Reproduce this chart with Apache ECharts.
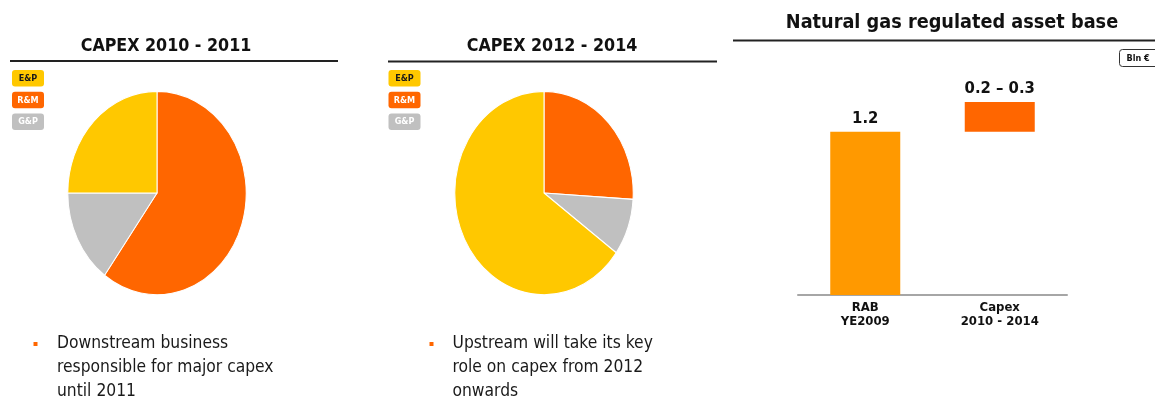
<!DOCTYPE html>
<html>
<head>
<meta charset="utf-8">
<script src="https://cdn.jsdelivr.net/npm/echarts@6/dist/echarts.min.js"></script>
<style>
  html, body { margin: 0; padding: 0; background: #fff; }
  #wrap { position: relative; width: 1155px; height: 400px; overflow: hidden; }
  #main { position: absolute; left: 0; top: 0; width: 1155px; height: 400px; }
  .pie { position: absolute; width: 200px; height: 200px; transform: scaleY(1.14); transform-origin: 50% 50%; }
</style>
</head>
<body>
<div id="wrap">
  <div id="main"></div>
  <div id="pie1" class="pie" style="left:57px; top:93px;"></div>
  <div id="pie2" class="pie" style="left:444px; top:93px;"></div>
</div>
<script>
// Capex split by business line (%), pies run clockwise from 12 o'clock
const pieCategories = ['R&M', 'G&P', 'E&P'];
const capex2010_2011 = [60, 15, 25];
const capex2012_2014 = [26, 9, 65];

// Legend badges, in display order
const legendItems = ['E&P', 'R&M', 'G&P'];

// Regulated asset base bridge (Bln €)
const barCategories = ['RAB\nYE2009', 'Capex\n2010 - 2014'];
const barValues = [1.2, 0.22];
const barLabels = ['1.2', '0.2 – 0.3'];

const FONT = "'DejaVu Sans Condensed', 'DejaVu Sans', sans-serif";
const colorOf = { 'E&P': '#FFC800', 'R&M': '#FF6600', 'G&P': '#C0C0C0' };
const legendText = { 'E&P': '#1a1a1a', 'R&M': '#ffffff', 'G&P': '#ffffff' };
const barColors = ['#FF9900', '#FF6600'];

// floating bars: each one starts where the previous ended
const barBase = barValues.map((v, i) => barValues.slice(0, i).reduce((a, b) => a + b, 0));

function legendGroup(x0) {
  return legendItems.map((name, i) => ({
    type: 'group',
    x: x0, y: 70 + i * 21.7,
    children: [
      { type: 'rect', shape: { x: 0, y: 0, width: 32, height: 16.5, r: 3 },
        style: { fill: colorOf[name] } },
      { type: 'text', x: 16, y: 8.5,
        style: { text: name, fill: legendText[name], font: 'bold 9px ' + FONT,
                 align: 'center', verticalAlign: 'middle' } }
    ]
  }));
}

function bullet(x, textX, lines) {
  return [
    { type: 'rect', shape: { x: x, y: 342, width: 4, height: 4 }, style: { fill: '#FF6600' } },
    { type: 'text', x: textX, y: 332,
      style: { text: lines, fill: '#1a1a1a', font: '17.3px ' + FONT, lineHeight: 24,
               align: 'left', verticalAlign: 'top' } }
  ];
}

const main = echarts.init(document.getElementById('main'));
main.setOption({
  animation: false,
  title: [
    { text: 'CAPEX 2010 - 2011', left: 161, top: 32, textAlign: 'center',
      textStyle: { fontFamily: FONT, fontWeight: 'bold', fontSize: 17.7, color: '#111' } },
    { text: 'CAPEX 2012 - 2014', left: 547, top: 32, textAlign: 'center',
      textStyle: { fontFamily: FONT, fontWeight: 'bold', fontSize: 17.7, color: '#111' } },
    { text: 'Natural gas regulated asset base', left: 947, top: 8, textAlign: 'center',
      textStyle: { fontFamily: FONT, fontWeight: 'bold', fontSize: 19.7, color: '#111' } }
  ],
  grid: { left: 798, width: 269, top: 91, height: 204 },
  xAxis: {
    type: 'category', data: barCategories,
    axisLine: { lineStyle: { color: '#A6A6A6', width: 2 } },
    axisTick: { show: false },
    axisLabel: { margin: 6, fontFamily: FONT, fontWeight: 'bold', fontSize: 13,
                 lineHeight: 13.5, color: '#111' }
  },
  yAxis: { type: 'value', min: 0, max: 1.5, show: false, splitLine: { show: false } },
  series: [
    { type: 'bar', stack: 'rab', barWidth: 70, silent: true,
      itemStyle: { color: 'transparent' }, data: barBase },
    { type: 'bar', stack: 'rab', barWidth: 70,
      data: barValues.map((v, i) => ({ value: v, itemStyle: { color: barColors[i] } })),
      label: { show: true, position: 'top', distance: 5,
               formatter: p => barLabels[p.dataIndex],
               fontFamily: FONT, fontWeight: 'bold', fontSize: 16.5, color: '#111' } }
  ],
  graphic: [
    { type: 'line', shape: { x1: 10, y1: 61, x2: 338, y2: 61 }, style: { stroke: '#222', lineWidth: 2 } },
    { type: 'line', shape: { x1: 388, y1: 61.5, x2: 717, y2: 61.5 }, style: { stroke: '#222', lineWidth: 2 } },
    { type: 'line', shape: { x1: 733, y1: 40.5, x2: 1160, y2: 40.5 }, style: { stroke: '#222', lineWidth: 2 } },
    { type: 'rect', shape: { x: 1119.5, y: 49.5, width: 50, height: 17, r: 3 },
      style: { fill: '#fff', stroke: '#333', lineWidth: 1 } },
    { type: 'text', x: 1126.5, y: 58.5,
      style: { text: 'Bln €', fill: '#111', font: 'bold 9px ' + FONT, verticalAlign: 'middle' } },
    ...legendGroup(12),
    ...legendGroup(388.5),
    ...bullet(33.5, 57, 'Downstream business\nresponsible for major capex\nuntil 2011'),
    ...bullet(429.5, 452.5, 'Upstream will take its key\nrole on capex from 2012\nonwards')
  ]
});

function drawPie(id, values) {
  const chart = echarts.init(document.getElementById(id), null, { renderer: 'svg' });
  chart.setOption({
    animation: false,
    series: [{
      type: 'pie', center: ['50%', '50%'], radius: 89.2, startAngle: 90, clockwise: true,
      label: { show: false }, labelLine: { show: false },
      itemStyle: { borderColor: '#fff', borderWidth: 1 },
      emphasis: { disabled: true },
      data: pieCategories.map((name, i) => ({ name, value: values[i], itemStyle: { color: colorOf[name] } }))
    }]
  });
}
drawPie('pie1', capex2010_2011);
drawPie('pie2', capex2012_2014);
</script>
</body>
</html>
